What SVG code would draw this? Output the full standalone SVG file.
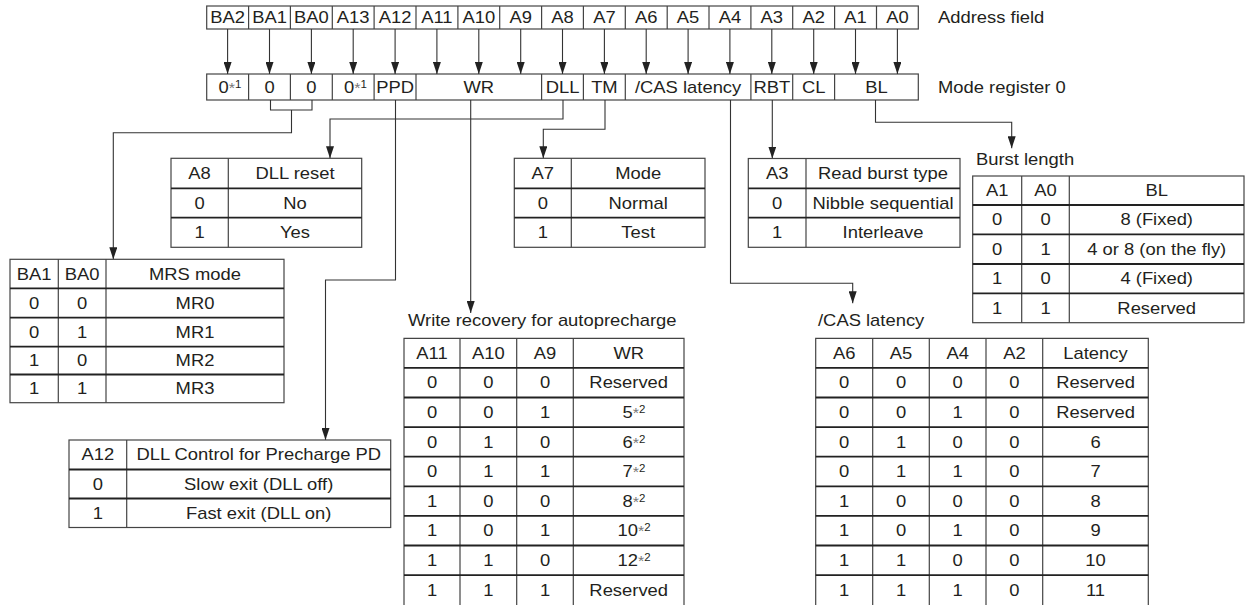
<svg xmlns="http://www.w3.org/2000/svg" width="1248" height="605" viewBox="0 0 1248 605">
<style>
.bg{fill:#fff}
.o{fill:none;stroke:#444;stroke-width:1.2}
.h{stroke:#222;stroke-width:1.8}
.v{stroke:#444;stroke-width:1.2}
.c{fill:none;stroke:#333;stroke-width:1.1}
.t{font-family:"Liberation Sans",Arial,sans-serif;font-size:16px;fill:#231f20;text-anchor:middle}
.l{text-anchor:start}
.s{font-size:10px}
.a{font-size:14px;fill:#777}
</style>
<defs>
<marker id="ah" markerWidth="12" markerHeight="8" refX="12" refY="4" orient="auto" markerUnits="userSpaceOnUse"><path d="M0,0 L12,4 L0,8 z" fill="#222"/></marker>
</defs>
<rect class="bg" x="0" y="0" width="1248" height="605"/>

<g id="address-field">
<rect class="o" x="206.7" y="6" width="711.6" height="23"/>
<path class="v" d="M248.6,6V29M290.4,6V29M332.3,6V29M374.1,6V29M416,6V29M457.9,6V29M499.7,6V29M541.6,6V29M583.4,6V29M625.3,6V29M667.2,6V29M709,6V29M750.9,6V29M792.7,6V29M834.6,6V29M876.5,6V29"/>
<text class="t" transform="translate(227.6,23.2) scale(1.15,1)">BA2</text>
<text class="t" transform="translate(269.5,23.2) scale(1.15,1)">BA1</text>
<text class="t" transform="translate(311.4,23.2) scale(1.15,1)">BA0</text>
<text class="t" transform="translate(353.2,23.2) scale(1.15,1)">A13</text>
<text class="t" transform="translate(395.1,23.2) scale(1.15,1)">A12</text>
<text class="t" transform="translate(436.9,23.2) scale(1.15,1)">A11</text>
<text class="t" transform="translate(478.8,23.2) scale(1.15,1)">A10</text>
<text class="t" transform="translate(520.7,23.2) scale(1.15,1)">A9</text>
<text class="t" transform="translate(562.5,23.2) scale(1.15,1)">A8</text>
<text class="t" transform="translate(604.4,23.2) scale(1.15,1)">A7</text>
<text class="t" transform="translate(646.2,23.2) scale(1.15,1)">A6</text>
<text class="t" transform="translate(688.1,23.2) scale(1.15,1)">A5</text>
<text class="t" transform="translate(729.9,23.2) scale(1.15,1)">A4</text>
<text class="t" transform="translate(771.8,23.2) scale(1.15,1)">A3</text>
<text class="t" transform="translate(813.7,23.2) scale(1.15,1)">A2</text>
<text class="t" transform="translate(855.5,23.2) scale(1.15,1)">A1</text>
<text class="t" transform="translate(897.4,23.2) scale(1.15,1)">A0</text>
<text class="t l" transform="translate(938,23.2) scale(1.15,1)">Address field</text>
</g>

<g id="mode-register">
<rect class="o" x="206.7" y="74" width="711.6" height="26"/>
<path class="v" d="M248.6,74V100M290.4,74V100M332.3,74V100M374.1,74V100M416,74V100M541.6,74V100M583.4,74V100M625.3,74V100M750.9,74V100M792.7,74V100M834.6,74V100"/>
<text class="t" transform="translate(230,92.7) scale(1.15,1)">0<tspan class="a">*</tspan><tspan class="s" dy="-5">1</tspan></text>
<text class="t" transform="translate(269.5,92.7) scale(1.15,1)">0</text>
<text class="t" transform="translate(311.4,92.7) scale(1.15,1)">0</text>
<text class="t" transform="translate(355.5,92.7) scale(1.15,1)">0<tspan class="a">*</tspan><tspan class="s" dy="-5">1</tspan></text>
<text class="t" transform="translate(395.1,92.7) scale(1.15,1)">PPD</text>
<text class="t" transform="translate(478.8,92.7) scale(1.15,1)">WR</text>
<text class="t" transform="translate(562.5,92.7) scale(1.15,1)">DLL</text>
<text class="t" transform="translate(604.4,92.7) scale(1.15,1)">TM</text>
<text class="t" transform="translate(688.1,92.7) scale(1.15,1)">/CAS latency</text>
<text class="t" transform="translate(771.8,92.7) scale(1.15,1)">RBT</text>
<text class="t" transform="translate(813.7,92.7) scale(1.15,1)">CL</text>
<text class="t" transform="translate(876.5,92.7) scale(1.15,1)">BL</text>
<text class="t l" transform="translate(938,92.7) scale(1.15,1)">Mode register 0</text>
</g>

<g id="connectors">
<path class="c" marker-end="url(#ah)" d="M227.6,29V74"/>
<path class="c" marker-end="url(#ah)" d="M269.5,29V74"/>
<path class="c" marker-end="url(#ah)" d="M311.4,29V74"/>
<path class="c" marker-end="url(#ah)" d="M353.2,29V74"/>
<path class="c" marker-end="url(#ah)" d="M395.1,29V74"/>
<path class="c" marker-end="url(#ah)" d="M436.9,29V74"/>
<path class="c" marker-end="url(#ah)" d="M478.8,29V74"/>
<path class="c" marker-end="url(#ah)" d="M520.7,29V74"/>
<path class="c" marker-end="url(#ah)" d="M562.5,29V74"/>
<path class="c" marker-end="url(#ah)" d="M604.4,29V74"/>
<path class="c" marker-end="url(#ah)" d="M646.2,29V74"/>
<path class="c" marker-end="url(#ah)" d="M688.1,29V74"/>
<path class="c" marker-end="url(#ah)" d="M729.9,29V74"/>
<path class="c" marker-end="url(#ah)" d="M771.8,29V74"/>
<path class="c" marker-end="url(#ah)" d="M813.7,29V74"/>
<path class="c" marker-end="url(#ah)" d="M855.5,29V74"/>
<path class="c" marker-end="url(#ah)" d="M897.4,29V74"/>
<path class="c" d="M270.5,100V110H312V100"/>
<path class="c" marker-end="url(#ah)" d="M291.5,110V132.7H113.3V259.3"/>
<path class="c" marker-end="url(#ah)" d="M563,100V119H330V158.3"/>
<path class="c" marker-end="url(#ah)" d="M395.5,100V280H325.5V440"/>
<path class="c" marker-end="url(#ah)" d="M470.7,100V313"/>
<path class="c" marker-end="url(#ah)" d="M605,100V129.3H543.3V158.3"/>
<path class="c" marker-end="url(#ah)" d="M730.5,100V283.3H852.7V303.3"/>
<path class="c" marker-end="url(#ah)" d="M772.3,100V158.5"/>
<path class="c" marker-end="url(#ah)" d="M875.5,100V122.3H1011.7V148.3"/>
</g>

<g id="dll-reset-table">
<rect class="o" x="171" y="158.3" width="190.7" height="89"/>
<path class="v" d="M228.3,158.3V247.3"/>
<path class="h" d="M171,188.3H361.7M171,217.7H361.7"/>
<text class="t" transform="translate(199.6,179) scale(1.15,1)">A8</text>
<text class="t" transform="translate(295,179) scale(1.15,1)">DLL reset</text>
<text class="t" transform="translate(199.6,208.7) scale(1.15,1)">0</text>
<text class="t" transform="translate(295,208.7) scale(1.15,1)">No</text>
<text class="t" transform="translate(199.6,238.2) scale(1.15,1)">1</text>
<text class="t" transform="translate(295,238.2) scale(1.15,1)">Yes</text>
</g>

<g id="test-mode-table">
<rect class="o" x="514.3" y="158.3" width="190.7" height="89"/>
<path class="v" d="M571.3,158.3V247.3"/>
<path class="h" d="M514.3,188.3H705M514.3,217.7H705"/>
<text class="t" transform="translate(542.8,179) scale(1.15,1)">A7</text>
<text class="t" transform="translate(638.2,179) scale(1.15,1)">Mode</text>
<text class="t" transform="translate(542.8,208.7) scale(1.15,1)">0</text>
<text class="t" transform="translate(638.2,208.7) scale(1.15,1)">Normal</text>
<text class="t" transform="translate(542.8,238.2) scale(1.15,1)">1</text>
<text class="t" transform="translate(638.2,238.2) scale(1.15,1)">Test</text>
</g>

<g id="read-burst-type-table">
<rect class="o" x="748.3" y="158.5" width="211.7" height="88.8"/>
<path class="v" d="M806,158.5V247.3"/>
<path class="h" d="M748.3,188.3H960M748.3,217.7H960"/>
<text class="t" transform="translate(777.2,179) scale(1.15,1)">A3</text>
<text class="t" transform="translate(883,179) scale(1.15,1)">Read burst type</text>
<text class="t" transform="translate(777.2,208.7) scale(1.15,1)">0</text>
<text class="t" transform="translate(883,208.7) scale(1.15,1)">Nibble sequential</text>
<text class="t" transform="translate(777.2,238.2) scale(1.15,1)">1</text>
<text class="t" transform="translate(883,238.2) scale(1.15,1)">Interleave</text>
</g>

<g id="burst-length-table">
<text class="t l" transform="translate(976,165) scale(1.15,1)">Burst length</text>
<rect class="o" x="972.7" y="176" width="271.3" height="146.7"/>
<path class="v" d="M1021.7,176V322.7M1069.3,176V322.7"/>
<path class="h" d="M972.7,205H1244M972.7,234.3H1244M972.7,264H1244M972.7,293.3H1244"/>
<text class="t" transform="translate(997.2,196.2) scale(1.15,1)">A1</text>
<text class="t" transform="translate(1045.5,196.2) scale(1.15,1)">A0</text>
<text class="t" transform="translate(1156.7,196.2) scale(1.15,1)">BL</text>
<text class="t" transform="translate(997.2,225.4) scale(1.15,1)">0</text>
<text class="t" transform="translate(1045.5,225.4) scale(1.15,1)">0</text>
<text class="t" transform="translate(1156.7,225.4) scale(1.15,1)">8 (Fixed)</text>
<text class="t" transform="translate(997.2,254.9) scale(1.15,1)">0</text>
<text class="t" transform="translate(1045.5,254.9) scale(1.15,1)">1</text>
<text class="t" transform="translate(1156.7,254.9) scale(1.15,1)">4 or 8 (on the fly)</text>
<text class="t" transform="translate(997.2,284.4) scale(1.15,1)">1</text>
<text class="t" transform="translate(1045.5,284.4) scale(1.15,1)">0</text>
<text class="t" transform="translate(1156.7,284.4) scale(1.15,1)">4 (Fixed)</text>
<text class="t" transform="translate(997.2,313.7) scale(1.15,1)">1</text>
<text class="t" transform="translate(1045.5,313.7) scale(1.15,1)">1</text>
<text class="t" transform="translate(1156.7,313.7) scale(1.15,1)">Reserved</text>
</g>

<g id="mrs-mode-table">
<rect class="o" x="10" y="259.3" width="274" height="143.4"/>
<path class="v" d="M58.3,259.3V402.7M106,259.3V402.7"/>
<path class="h" d="M10,288.3H284M10,317.7H284M10,346.7H284M10,374.5H284"/>
<text class="t" transform="translate(34.2,279.5) scale(1.15,1)">BA1</text>
<text class="t" transform="translate(82.2,279.5) scale(1.15,1)">BA0</text>
<text class="t" transform="translate(195,279.5) scale(1.15,1)">MRS mode</text>
<text class="t" transform="translate(34.2,308.7) scale(1.15,1)">0</text>
<text class="t" transform="translate(82.2,308.7) scale(1.15,1)">0</text>
<text class="t" transform="translate(195,308.7) scale(1.15,1)">MR0</text>
<text class="t" transform="translate(34.2,337.9) scale(1.15,1)">0</text>
<text class="t" transform="translate(82.2,337.9) scale(1.15,1)">1</text>
<text class="t" transform="translate(195,337.9) scale(1.15,1)">MR1</text>
<text class="t" transform="translate(34.2,366.3) scale(1.15,1)">1</text>
<text class="t" transform="translate(82.2,366.3) scale(1.15,1)">0</text>
<text class="t" transform="translate(195,366.3) scale(1.15,1)">MR2</text>
<text class="t" transform="translate(34.2,394.3) scale(1.15,1)">1</text>
<text class="t" transform="translate(82.2,394.3) scale(1.15,1)">1</text>
<text class="t" transform="translate(195,394.3) scale(1.15,1)">MR3</text>
</g>

<g id="ppd-table">
<rect class="o" x="69" y="440" width="321.7" height="87.5"/>
<path class="v" d="M126.7,440V527.5"/>
<path class="h" d="M69,469.5H390.7M69,498.5H390.7"/>
<text class="t" transform="translate(97.9,460.4) scale(1.15,1)">A12</text>
<text class="t" transform="translate(258.7,460.4) scale(1.15,1)">DLL Control for Precharge PD</text>
<text class="t" transform="translate(97.9,489.7) scale(1.15,1)">0</text>
<text class="t" transform="translate(258.7,489.7) scale(1.15,1)">Slow exit (DLL off)</text>
<text class="t" transform="translate(97.9,518.7) scale(1.15,1)">1</text>
<text class="t" transform="translate(258.7,518.7) scale(1.15,1)">Fast exit (DLL on)</text>
</g>

<g id="write-recovery-table">
<text class="t l" transform="translate(408,326) scale(1.15,1)">Write recovery for autoprecharge</text>
<path class="o" d="M404,606V338.3H684V606"/>
<path class="v" d="M460,338.3V606M516.7,338.3V606M573.3,338.3V606"/>
<path class="h" d="M404,367.9H684M404,397.5H684M404,427.1H684M404,456.7H684M404,486.3H684M404,515.9H684M404,545.5H684M404,575.1H684"/>
<text class="t" transform="translate(432,358.8) scale(1.15,1)">A11</text>
<text class="t" transform="translate(488.4,358.8) scale(1.15,1)">A10</text>
<text class="t" transform="translate(545,358.8) scale(1.15,1)">A9</text>
<text class="t" transform="translate(628.7,358.8) scale(1.15,1)">WR</text>
<text class="t" transform="translate(432,388.4) scale(1.15,1)">0</text>
<text class="t" transform="translate(488.4,388.4) scale(1.15,1)">0</text>
<text class="t" transform="translate(545,388.4) scale(1.15,1)">0</text>
<text class="t" transform="translate(628.7,388.4) scale(1.15,1)">Reserved</text>
<text class="t" transform="translate(432,418) scale(1.15,1)">0</text>
<text class="t" transform="translate(488.4,418) scale(1.15,1)">0</text>
<text class="t" transform="translate(545,418) scale(1.15,1)">1</text>
<text class="t" transform="translate(634,418) scale(1.15,1)">5<tspan class="a">*</tspan><tspan class="s" dy="-5">2</tspan></text>
<text class="t" transform="translate(432,447.6) scale(1.15,1)">0</text>
<text class="t" transform="translate(488.4,447.6) scale(1.15,1)">1</text>
<text class="t" transform="translate(545,447.6) scale(1.15,1)">0</text>
<text class="t" transform="translate(634,447.6) scale(1.15,1)">6<tspan class="a">*</tspan><tspan class="s" dy="-5">2</tspan></text>
<text class="t" transform="translate(432,477.2) scale(1.15,1)">0</text>
<text class="t" transform="translate(488.4,477.2) scale(1.15,1)">1</text>
<text class="t" transform="translate(545,477.2) scale(1.15,1)">1</text>
<text class="t" transform="translate(634,477.2) scale(1.15,1)">7<tspan class="a">*</tspan><tspan class="s" dy="-5">2</tspan></text>
<text class="t" transform="translate(432,506.8) scale(1.15,1)">1</text>
<text class="t" transform="translate(488.4,506.8) scale(1.15,1)">0</text>
<text class="t" transform="translate(545,506.8) scale(1.15,1)">0</text>
<text class="t" transform="translate(634,506.8) scale(1.15,1)">8<tspan class="a">*</tspan><tspan class="s" dy="-5">2</tspan></text>
<text class="t" transform="translate(432,536.4) scale(1.15,1)">1</text>
<text class="t" transform="translate(488.4,536.4) scale(1.15,1)">0</text>
<text class="t" transform="translate(545,536.4) scale(1.15,1)">1</text>
<text class="t" transform="translate(634,536.4) scale(1.15,1)">10<tspan class="a">*</tspan><tspan class="s" dy="-5">2</tspan></text>
<text class="t" transform="translate(432,566) scale(1.15,1)">1</text>
<text class="t" transform="translate(488.4,566) scale(1.15,1)">1</text>
<text class="t" transform="translate(545,566) scale(1.15,1)">0</text>
<text class="t" transform="translate(634,566) scale(1.15,1)">12<tspan class="a">*</tspan><tspan class="s" dy="-5">2</tspan></text>
<text class="t" transform="translate(432,595.6) scale(1.15,1)">1</text>
<text class="t" transform="translate(488.4,595.6) scale(1.15,1)">1</text>
<text class="t" transform="translate(545,595.6) scale(1.15,1)">1</text>
<text class="t" transform="translate(628.7,595.6) scale(1.15,1)">Reserved</text>
</g>

<g id="cas-latency-table">
<text class="t l" transform="translate(818,326) scale(1.15,1)">/CAS latency</text>
<path class="o" d="M815.7,606V338.3H1148.3V606"/>
<path class="v" d="M872.7,338.3V606M929.3,338.3V606M986,338.3V606M1042.7,338.3V606"/>
<path class="h" d="M815.7,367.9H1148.3M815.7,397.5H1148.3M815.7,427.1H1148.3M815.7,456.7H1148.3M815.7,486.3H1148.3M815.7,515.9H1148.3M815.7,545.5H1148.3M815.7,575.1H1148.3"/>
<text class="t" transform="translate(844.2,358.8) scale(1.15,1)">A6</text>
<text class="t" transform="translate(901,358.8) scale(1.15,1)">A5</text>
<text class="t" transform="translate(957.7,358.8) scale(1.15,1)">A4</text>
<text class="t" transform="translate(1014.4,358.8) scale(1.15,1)">A2</text>
<text class="t" transform="translate(1095.5,358.8) scale(1.15,1)">Latency</text>
<text class="t" transform="translate(844.2,388.4) scale(1.15,1)">0</text>
<text class="t" transform="translate(901,388.4) scale(1.15,1)">0</text>
<text class="t" transform="translate(957.7,388.4) scale(1.15,1)">0</text>
<text class="t" transform="translate(1014.4,388.4) scale(1.15,1)">0</text>
<text class="t" transform="translate(1095.5,388.4) scale(1.15,1)">Reserved</text>
<text class="t" transform="translate(844.2,418) scale(1.15,1)">0</text>
<text class="t" transform="translate(901,418) scale(1.15,1)">0</text>
<text class="t" transform="translate(957.7,418) scale(1.15,1)">1</text>
<text class="t" transform="translate(1014.4,418) scale(1.15,1)">0</text>
<text class="t" transform="translate(1095.5,418) scale(1.15,1)">Reserved</text>
<text class="t" transform="translate(844.2,447.6) scale(1.15,1)">0</text>
<text class="t" transform="translate(901,447.6) scale(1.15,1)">1</text>
<text class="t" transform="translate(957.7,447.6) scale(1.15,1)">0</text>
<text class="t" transform="translate(1014.4,447.6) scale(1.15,1)">0</text>
<text class="t" transform="translate(1095.5,447.6) scale(1.15,1)">6</text>
<text class="t" transform="translate(844.2,477.2) scale(1.15,1)">0</text>
<text class="t" transform="translate(901,477.2) scale(1.15,1)">1</text>
<text class="t" transform="translate(957.7,477.2) scale(1.15,1)">1</text>
<text class="t" transform="translate(1014.4,477.2) scale(1.15,1)">0</text>
<text class="t" transform="translate(1095.5,477.2) scale(1.15,1)">7</text>
<text class="t" transform="translate(844.2,506.8) scale(1.15,1)">1</text>
<text class="t" transform="translate(901,506.8) scale(1.15,1)">0</text>
<text class="t" transform="translate(957.7,506.8) scale(1.15,1)">0</text>
<text class="t" transform="translate(1014.4,506.8) scale(1.15,1)">0</text>
<text class="t" transform="translate(1095.5,506.8) scale(1.15,1)">8</text>
<text class="t" transform="translate(844.2,536.4) scale(1.15,1)">1</text>
<text class="t" transform="translate(901,536.4) scale(1.15,1)">0</text>
<text class="t" transform="translate(957.7,536.4) scale(1.15,1)">1</text>
<text class="t" transform="translate(1014.4,536.4) scale(1.15,1)">0</text>
<text class="t" transform="translate(1095.5,536.4) scale(1.15,1)">9</text>
<text class="t" transform="translate(844.2,566) scale(1.15,1)">1</text>
<text class="t" transform="translate(901,566) scale(1.15,1)">1</text>
<text class="t" transform="translate(957.7,566) scale(1.15,1)">0</text>
<text class="t" transform="translate(1014.4,566) scale(1.15,1)">0</text>
<text class="t" transform="translate(1095.5,566) scale(1.15,1)">10</text>
<text class="t" transform="translate(844.2,595.6) scale(1.15,1)">1</text>
<text class="t" transform="translate(901,595.6) scale(1.15,1)">1</text>
<text class="t" transform="translate(957.7,595.6) scale(1.15,1)">1</text>
<text class="t" transform="translate(1014.4,595.6) scale(1.15,1)">0</text>
<text class="t" transform="translate(1095.5,595.6) scale(1.15,1)">11</text>
</g>
</svg>
